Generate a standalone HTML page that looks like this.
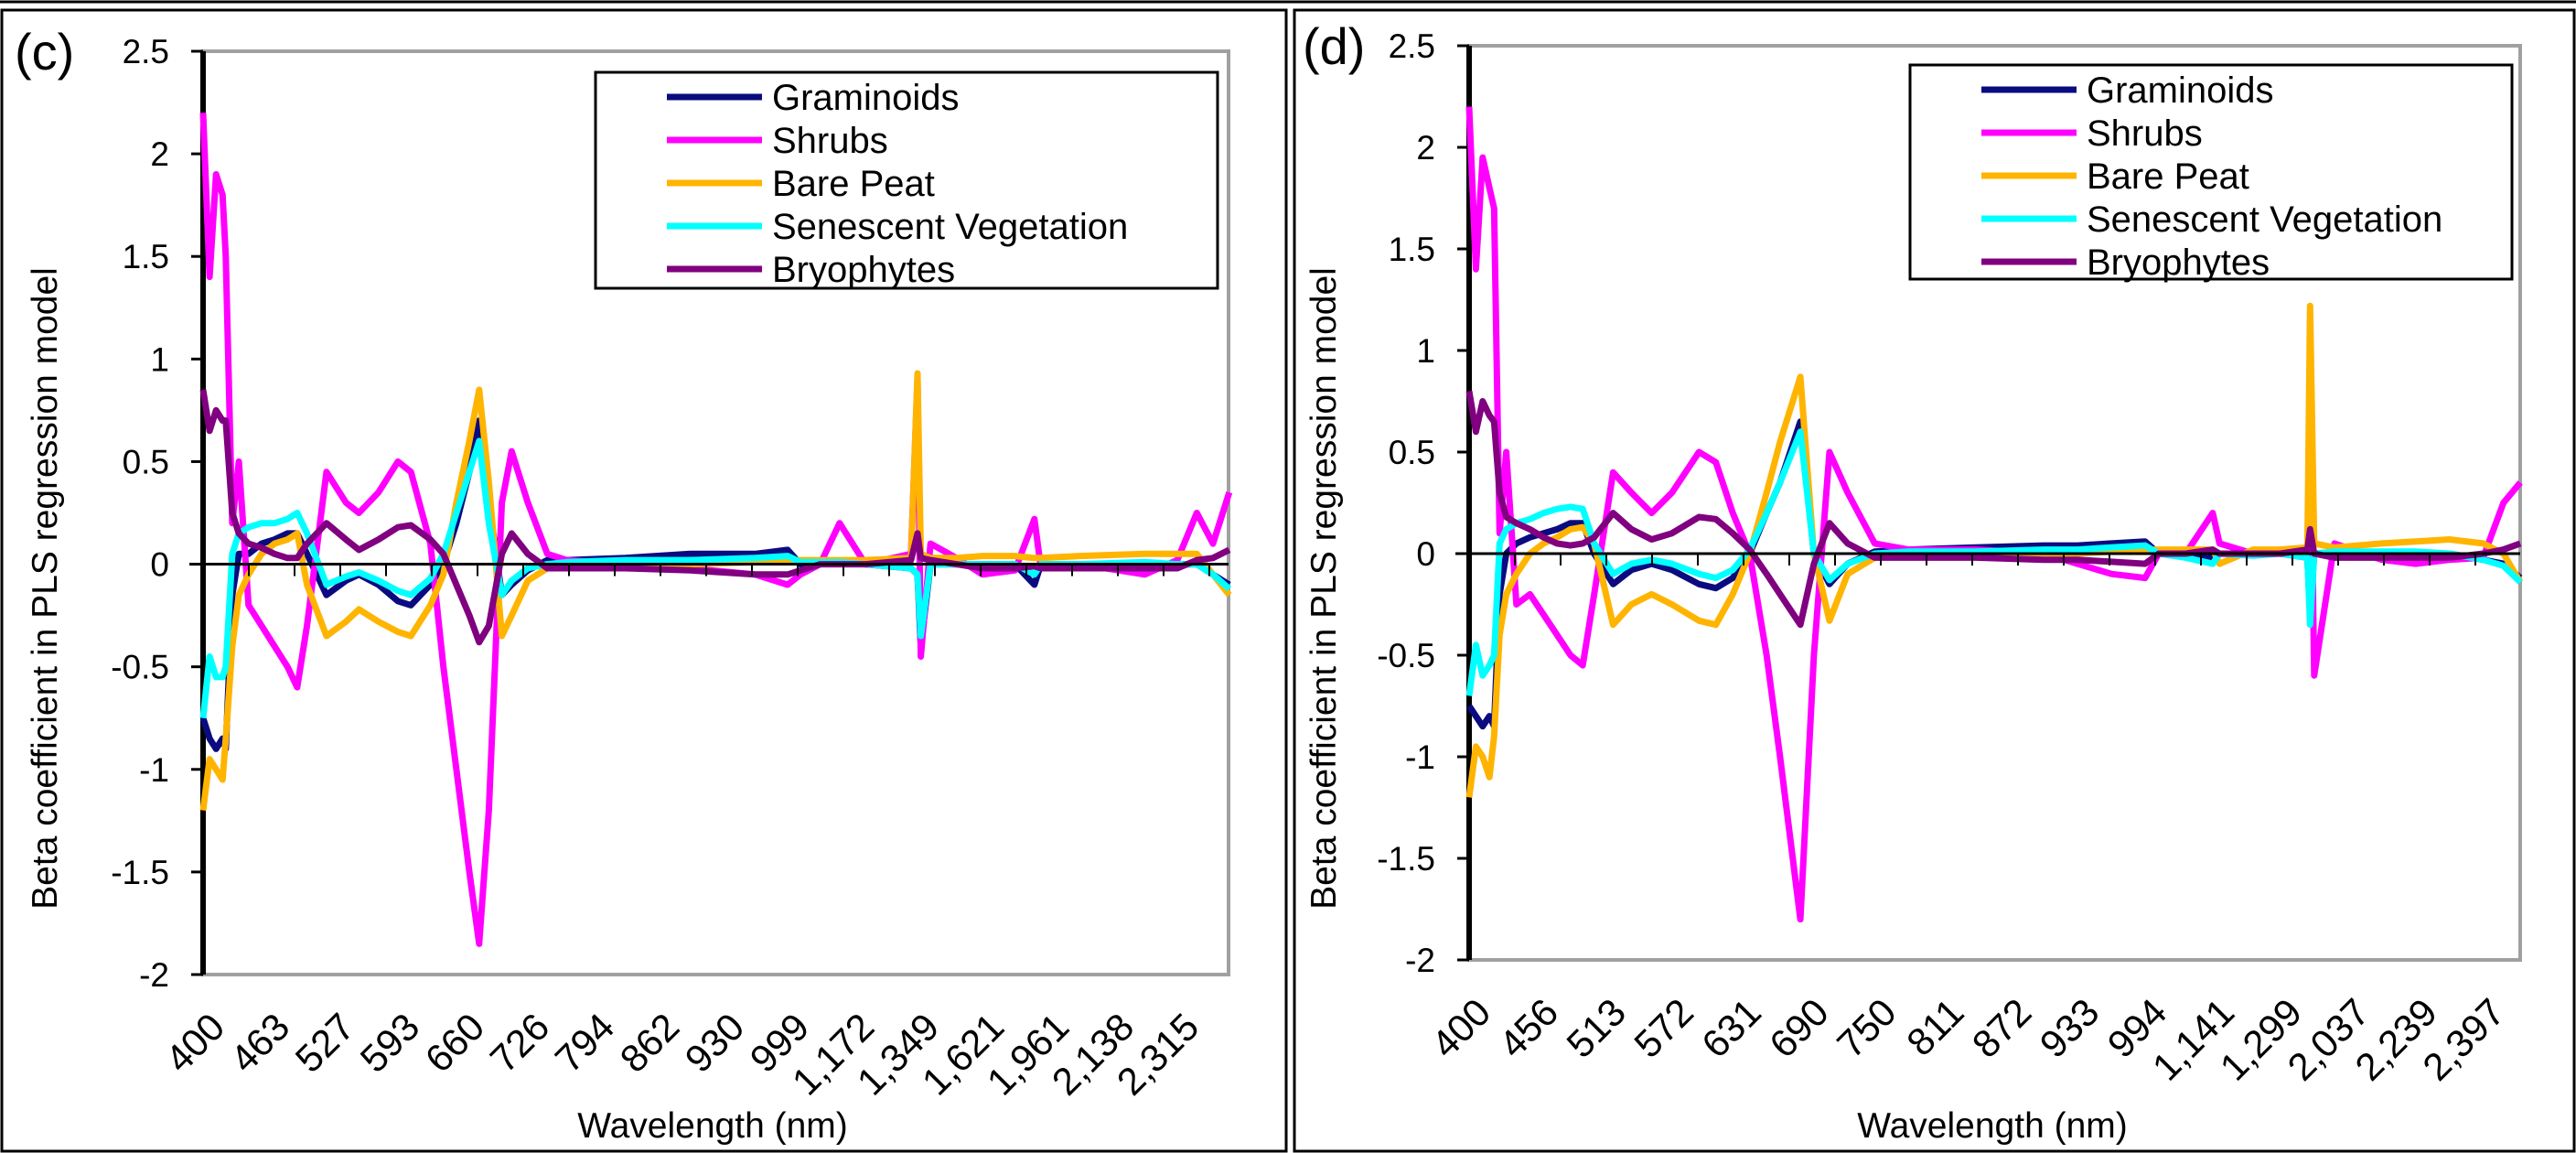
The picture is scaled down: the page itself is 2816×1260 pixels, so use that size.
<!DOCTYPE html>
<html><head><meta charset="utf-8"><style>
html,body{margin:0;padding:0;background:#fff;}
svg{display:block;font-family:"Liberation Sans",Arial,sans-serif;}
</style></head><body>
<svg id="chart" width="2816" height="1260" viewBox="0 0 2816 1260" xmlns="http://www.w3.org/2000/svg">
<line x1="0" y1="2" x2="2816" y2="2" stroke="#000" stroke-width="3"/>
<rect x="2" y="11" width="1404" height="1247" fill="none" stroke="#000" stroke-width="3"/>
<rect x="1415" y="11" width="1399" height="1247" fill="none" stroke="#000" stroke-width="3"/>
<g id="pc"></g>
<g id="pd"></g>
</svg>
<script>
const seriesNames = ["Graminoids","Shrubs","Bare Peat","Senescent Vegetation","Bryophytes"];
const seriesColors = ["#0b0b80","#ff00ff","#ffb400","#00ffff","#800080"];
const yTicks = [2.5,2,1.5,1,0.5,0,-0.5,-1,-1.5,-2];

const xLabelsC = ["400","463","527","593","660","726","794","862","930","999","1,172","1,349","1,621","1,961","2,138","2,315"];
const xPosC = [0,0.1,0.2,0.3,0.35,0.45,0.55,0.7,0.9,1.1,1.3,1.45,1.6,1.9,2.2,2.4,2.7,3.0,3.2,3.5,3.7,3.9,4.1,4.25,4.4,4.6,4.75,5.0,5.3,5.6,6.5,7.5,8.5,9.0,9.2,9.5,9.8,10.2,10.9,11.0,11.05,11.2,11.6,12.0,12.5,12.8,12.9,13.5,14.5,15.0,15.3,15.55,15.8];
const gramC = [-0.75,-0.85,-0.9,-0.85,-0.9,-0.15,0.05,0.05,0.1,0.12,0.15,0.15,0.05,-0.15,-0.08,-0.05,-0.1,-0.18,-0.2,-0.1,0.0,0.2,0.45,0.7,0.3,-0.15,-0.1,-0.03,0.02,0.02,0.03,0.05,0.05,0.07,0.0,0.01,0.01,0.0,-0.02,-0.05,-0.4,0.0,0.0,0.0,0.0,-0.1,0.0,0.0,0.0,0.0,0.0,-0.05,-0.1];
const shrubC = [2.2,1.4,1.9,1.8,1.5,0.2,0.5,-0.2,-0.3,-0.4,-0.5,-0.6,-0.3,0.45,0.3,0.25,0.35,0.5,0.45,0.1,-0.5,-1.0,-1.5,-1.85,-1.2,0.3,0.55,0.3,0.05,0.02,0.0,-0.02,-0.05,-0.1,-0.05,0.0,0.2,0.0,0.05,0.9,-0.45,0.1,0.03,-0.05,-0.03,0.22,-0.02,0.0,-0.05,0.02,0.25,0.1,0.35];
const peatC = [-1.2,-0.95,-1.0,-1.05,-0.85,-0.4,-0.15,-0.05,0.05,0.1,0.12,0.15,-0.1,-0.35,-0.28,-0.22,-0.28,-0.33,-0.35,-0.2,-0.05,0.3,0.6,0.85,0.4,-0.35,-0.25,-0.08,-0.02,-0.01,0.0,0.0,0.01,0.02,0.02,0.02,0.02,0.02,0.03,0.93,0.05,0.03,0.03,0.04,0.04,0.03,0.03,0.04,0.05,0.05,0.05,-0.05,-0.15];
const senC = [-0.75,-0.45,-0.55,-0.55,-0.5,0.05,0.15,0.18,0.2,0.2,0.22,0.25,0.15,-0.1,-0.06,-0.04,-0.08,-0.13,-0.15,-0.07,0.05,0.25,0.45,0.6,0.2,-0.15,-0.08,-0.02,0.0,0.01,0.02,0.02,0.03,0.04,0.01,0.01,0.01,0.0,-0.02,-0.05,-0.35,0.0,0.0,0.0,0.0,-0.05,0.0,0.0,0.01,0.0,0.0,-0.05,-0.12];
const bryoC = [0.85,0.65,0.75,0.7,0.7,0.25,0.15,0.1,0.08,0.05,0.03,0.03,0.1,0.2,0.12,0.07,0.12,0.18,0.19,0.12,0.05,-0.1,-0.25,-0.38,-0.3,0.05,0.15,0.05,-0.02,-0.02,-0.02,-0.03,-0.05,-0.05,-0.03,0.0,0.0,0.0,0.02,0.15,0.03,0.02,0.0,-0.02,-0.02,-0.01,-0.02,-0.02,-0.02,-0.02,0.02,0.03,0.07];

const xLabelsD = ["400","456","513","572","631","690","750","811","872","933","994","1,141","1,299","2,037","2,239","2,397"];
const xPosD = [0,0.1,0.2,0.3,0.37,0.45,0.55,0.7,0.9,1.1,1.3,1.5,1.68,1.85,2.13,2.4,2.7,3.0,3.4,3.65,3.9,4.15,4.4,4.6,4.9,5.1,5.33,5.6,6.0,6.5,7.5,8.5,9.0,9.5,10.0,10.2,10.6,11.0,11.1,11.6,12.0,12.4,12.44,12.5,12.8,13.5,14.0,14.5,15.0,15.3,15.55];
const gramD = [-0.75,-0.8,-0.85,-0.8,-0.85,-0.2,0.0,0.05,0.08,0.1,0.12,0.15,0.15,0.0,-0.15,-0.08,-0.05,-0.08,-0.15,-0.17,-0.12,0.0,0.2,0.35,0.65,0.0,-0.15,-0.05,0.01,0.02,0.03,0.04,0.04,0.05,0.06,0.0,-0.01,-0.02,0.0,0.0,0.0,-0.02,-0.3,0.0,0.0,0.0,0.0,0.0,-0.03,-0.05,-0.12];
const shrubD = [2.2,1.4,1.95,1.8,1.7,0.1,0.5,-0.25,-0.2,-0.3,-0.4,-0.5,-0.55,-0.2,0.4,0.3,0.2,0.3,0.5,0.45,0.2,0.0,-0.5,-1.0,-1.8,-0.5,0.5,0.3,0.05,0.02,0.02,0.0,-0.05,-0.1,-0.12,0.0,0.0,0.2,0.05,0.0,0.02,0.0,0.8,-0.6,0.05,-0.03,-0.05,-0.03,-0.02,0.25,0.35];
const peatD = [-1.2,-0.95,-1.0,-1.1,-0.9,-0.4,-0.2,-0.1,0.0,0.05,0.08,0.12,0.13,0.05,-0.35,-0.25,-0.2,-0.25,-0.33,-0.35,-0.2,0.0,0.3,0.55,0.87,0.0,-0.33,-0.1,-0.02,-0.01,0.0,0.0,0.0,0.01,0.02,0.02,0.02,0.02,-0.05,0.02,0.02,0.03,1.22,0.05,0.03,0.05,0.06,0.07,0.05,0.0,-0.14];
const senD = [-0.7,-0.45,-0.6,-0.55,-0.5,0.05,0.12,0.15,0.17,0.2,0.22,0.23,0.22,0.05,-0.1,-0.05,-0.03,-0.05,-0.1,-0.12,-0.08,0.02,0.2,0.35,0.6,0.0,-0.13,-0.05,0.0,0.01,0.01,0.02,0.02,0.03,0.04,0.0,-0.02,-0.05,0.0,-0.01,0.0,-0.02,-0.35,0.0,0.01,0.01,0.01,0.0,-0.03,-0.06,-0.14];
const bryoD = [0.8,0.6,0.75,0.68,0.65,0.3,0.18,0.15,0.12,0.08,0.05,0.04,0.05,0.08,0.2,0.12,0.07,0.1,0.18,0.17,0.1,0.02,-0.1,-0.2,-0.35,-0.05,0.15,0.05,-0.02,-0.02,-0.02,-0.03,-0.03,-0.04,-0.05,0.0,0.0,0.02,0.0,0.0,0.0,0.02,0.12,0.0,-0.02,-0.02,-0.02,-0.02,0.0,0.02,0.05];

const NS = "http://www.w3.org/2000/svg";
function mk(parent, tag, attrs, text){
  const e = document.createElementNS(NS, tag);
  for (const k in attrs) e.setAttribute(k, attrs[k]);
  if (text !== undefined) e.textContent = text;
  parent.appendChild(e);
  return e;
}

function drawPanel(g, cfg){
  const L=cfg.L, R=cfg.R, T=cfg.T, B=cfg.B;
  const yS = v => T + (2.5 - v) * (B - T) / 4.5;
  const xS = u => L + u * cfg.unit;
  const y0 = yS(0);
  const border = mk(g,"rect",{x:L,y:T,width:R-L,height:B-T,fill:"none",stroke:"#a0a0a0","stroke-width":4});
  
  
  const ya = mk(g,"line",{x1:L,y1:T,x2:L,y2:B,stroke:"#000","stroke-width":6});
  
  
  yTicks.forEach(v=>{
    const y=yS(v);
    const tk = mk(g,"line",{x1:L-13,y1:y,x2:L,y2:y,stroke:"#000","stroke-width":3});
    
    
    const tl = mk(g,"text",{x:L-37,y:y+13,"text-anchor":"end","font-size":37,fill:"#000"}, String(v));
    
    
  });
  cfg.labels.forEach((s,i)=>{
    const x = xS(i);
    const ex = x + 26, ey = B + 60;
    const tl = mk(g,"text",{x:ex,y:ey,"text-anchor":"end","font-size":42,fill:"#000",transform:`rotate(-45 ${ex} ${ey})`}, s);
    
    
  });
  cfg.series.forEach((vals,si)=>{
    const d = vals.map((v,i)=>(i?"L":"M")+xS(cfg.xs[i]).toFixed(1)+" "+yS(v).toFixed(1)).join(" ");
    const p = mk(g,"path",{d:d,fill:"none",stroke:seriesColors[si],"stroke-width":7,"stroke-linejoin":"round"});
    
    
  });
  const xa = mk(g,"line",{x1:L-15,y1:y0,x2:R,y2:y0,stroke:"#000","stroke-width":3});
  
  
  for (let x=L+50; x<R; x+=50){
    const tk = mk(g,"line",{x1:x,y1:y0,x2:x,y2:y0+13,stroke:"#000","stroke-width":2});
    
    
  }
  const lg = mk(g,"g",{});
  
  
  mk(lg,"rect",{x:cfg.lx,y:cfg.ly,width:cfg.lw,height:cfg.lh,fill:"#fff",stroke:"#000","stroke-width":3});
  seriesNames.forEach((n,i)=>{
    const yy = cfg.ly + 27 + i*47;
    const ent = mk(lg,"g",{});
    
    
    mk(ent,"line",{x1:cfg.lx+78,y1:yy,x2:cfg.lx+182,y2:yy,stroke:seriesColors[i],"stroke-width":7});
    mk(ent,"text",{x:cfg.lx+193,y:yy+14,"font-size":40,fill:"#000"}, n);
  });
  const xt = mk(g,"text",{x:cfg.xtX,y:1243,"text-anchor":"middle","font-size":39,fill:"#000","xml:space":"preserve"}, "Wavelength  (nm)");
  
  
  const yt = mk(g,"text",{x:cfg.ytX,y:643,"text-anchor":"middle","font-size":39,fill:"#000",transform:`rotate(-90 ${cfg.ytX} 643)`}, "Beta coefficient in PLS regression model");
  
  
  const pl = mk(g,"text",{x:cfg.plX,y:cfg.plY,"font-size":56,fill:"#000"}, cfg.panel);
  
  
}

drawPanel(document.getElementById("pc"), {L:222,R:1343,T:56,B:1065,unit:71,labels:xLabelsC,xs:xPosC,
  series:[gramC,shrubC,peatC,senC,bryoC], lx:651,ly:79,lw:680,lh:236, xtX:779, ytX:62, plX:16, plY:76, panel:"(c)"});
drawPanel(document.getElementById("pd"), {L:1606,R:2755,T:50,B:1049,unit:73.9,labels:xLabelsD,xs:xPosD,
  series:[gramD,shrubD,peatD,senD,bryoD], lx:2088,ly:71,lw:658,lh:234, xtX:2178, ytX:1460, plX:1424, plY:70, panel:"(d)"});
</script>
</body></html>
